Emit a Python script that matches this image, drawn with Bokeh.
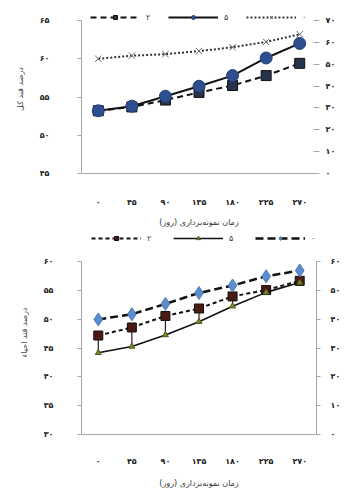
from bokeh.plotting import figure
from bokeh.models import (FactorRange, Range1d, LinearAxis, FixedTicker, Legend, LegendItem)
from bokeh.layouts import column
from bokeh.embed import file_html
from bokeh.resources import INLINE

# ---------------- data ----------------
days = ["۰", "۴۵", "۹۰", "۱۳۵", "۱۸۰", "۲۲۵", "۲۷۰"]
series_names = ["۲", "۵", "۰"]

# top chart: total sugar (%)
top_s2 = [53.2, 53.7, 54.6, 55.6, 56.5, 57.8, 59.4]
top_s5 = [53.2, 53.8, 55.1, 56.4, 57.8, 60.1, 62.0]
top_s0 = [60.0, 60.4, 60.6, 61.0, 61.5, 62.2, 63.2]

# bottom chart: reducing sugar (%)
bot_s2 = [47.2, 48.6, 50.6, 51.9, 54.0, 55.1, 56.7]
bot_s5 = [44.2, 45.3, 47.3, 49.6, 52.3, 54.7, 56.4]
bot_s0 = [50.0, 50.9, 52.7, 54.6, 55.9, 57.5, 58.5]

top_left_ticks = [45, 50, 55, 60, 65]
top_left_labels = ["۴۵", "۵۰", "۵۵", "۶۰", "۶۵"]
top_right_ticks = [0, 10, 20, 30, 40, 50, 60, 70]
top_right_labels = ["۰", "۱۰", "۲۰", "۳۰", "۴۰", "۵۰", "۶۰", "۷۰"]

bot_left_ticks = [30, 35, 40, 45, 50, 55, 60]
bot_left_labels = ["۳۰", "۳۵", "۴۰", "۴۵", "۵۰", "۵۵", "۶۰"]
bot_right_ticks = [0, 10, 20, 30, 40, 50, 60]
bot_right_labels = ["۰", "۱۰", "۲۰", "۳۰", "۴۰", "۵۰", "۶۰"]

x_title = "زمان نمونه‌برداری (روز)"
top_y_title = "درصد قند کل"
bot_y_title = "درصد قند احیاء"

FONT = "DejaVu Sans"
AXIS_GRAY = "#a6a6a6"


def style_axis(ax, ticks, labels, standoff):
    ax.ticker = FixedTicker(ticks=ticks)
    ax.bounds = (ticks[0], ticks[-1])
    ax.major_label_overrides = {t: l for t, l in zip(ticks, labels)}
    ax.major_label_text_font = FONT
    ax.major_label_text_font_size = "8px"
    ax.major_label_text_font_style = "bold"
    ax.major_label_text_color = "#222222"
    ax.major_label_standoff = standoff
    ax.axis_line_color = AXIS_GRAY
    ax.major_tick_line_color = AXIS_GRAY
    ax.major_tick_in = 0
    ax.major_tick_out = 4
    ax.minor_tick_line_color = None


def make_fig(height, bl, br, bt, bb, ticks, rticks, head_px):
    # frame extends head_px above the top tick so the legend can sit inside it
    frame_h = height - bt - bb
    span = frame_h - head_px
    y0, y1 = ticks[0], ticks[-1]
    ymax = y1 + (y1 - y0) * head_px / span
    r0, r1 = rticks[0], rticks[-1]
    rmax = r1 + (r1 - r0) * head_px / span
    p = figure(width=347, height=height, x_range=FactorRange(*days, range_padding=0),
               y_range=Range1d(y0, ymax), output_backend="svg", toolbar_location=None,
               min_border_left=bl, min_border_right=br, min_border_top=bt,
               min_border_bottom=bb)
    p.extra_y_ranges = {"r": Range1d(r0, rmax)}
    p.outline_line_color = None
    p.xgrid.grid_line_color = None
    p.ygrid.grid_line_color = None
    p.background_fill_color = "white"
    p.border_fill_color = "white"
    xa = p.xaxis[0]
    xa.major_label_text_font = FONT
    xa.major_label_text_font_size = "8px"
    xa.major_label_text_font_style = "bold"
    xa.major_label_text_color = "#222222"
    xa.major_tick_line_color = None
    xa.axis_line_color = AXIS_GRAY
    xa.axis_label = x_title
    xa.axis_label_text_font = FONT
    xa.axis_label_text_font_size = "8px"
    xa.axis_label_text_font_style = "normal"
    xa.axis_label_text_color = "#333333"
    return p


def make_legend(renderer_pairs, loc, spacing):
    return Legend(items=[LegendItem(label=n, renderers=list(r))
                         for n, r in zip(series_names, renderer_pairs)],
                  orientation="horizontal", location=loc, glyph_width=50, glyph_height=10,
                  label_standoff=6, spacing=spacing, padding=0, margin=0,
                  background_fill_alpha=0, border_line_color=None,
                  label_text_font=FONT, label_text_font_size="8px",
                  label_height=10, label_width=6)


# ---------------- top chart ----------------
p1 = make_fig(230, 81, 27, 4, 57, top_left_ticks, top_right_ticks, 16)
style_axis(p1.yaxis[0], top_left_ticks, top_left_labels, 28)
ya = p1.yaxis[0]
ya.axis_label = top_y_title
ya.axis_label_text_font = FONT
ya.axis_label_text_font_size = "8px"
ya.axis_label_text_font_style = "normal"
ya.axis_label_standoff = 12
p1.xaxis[0].major_label_standoff = 18
p1.xaxis[0].axis_label_standoff = 8
ra1 = LinearAxis(y_range_name="r")
style_axis(ra1, top_right_ticks, top_right_labels, 6)
ra1.axis_line_color = None
ra1.major_tick_in = 3
ra1.major_tick_out = 3
p1.add_layout(ra1, "right")

l1a = p1.line(days, top_s2, line_color="#111111", line_width=2, line_dash="6 4")
m1a = p1.scatter(days, top_s2, marker="square", size=10, fill_color="#26334a", line_color="#111111")
l1b = p1.line(days, top_s5, line_color="#111111", line_width=2)
m1b = p1.scatter(days, top_s5, marker="circle", size=12, fill_color="#2e4f8f", line_color="#25407a")
l1c = p1.line(days, top_s0, line_color="#333333", line_width=2, line_dash="2 2")
m1c = p1.scatter(days, top_s0, marker="x", size=9, line_color="#666666", line_width=1)

p1.add_layout(make_legend([(l1a, m1a), (l1b, m1b), (l1c, m1c)], (9, 151), 16), "center")

# ---------------- bottom chart ----------------
p2 = make_fig(260, 77, 31, 0, 52, bot_left_ticks, bot_right_ticks, 32)
style_axis(p2.yaxis[0], bot_left_ticks, bot_left_labels, 24)
yb = p2.yaxis[0]
yb.axis_label = bot_y_title
yb.axis_label_text_font = FONT
yb.axis_label_text_font_size = "8px"
yb.axis_label_text_font_style = "normal"
yb.axis_label_standoff = 12
p2.xaxis[0].major_label_standoff = 16
p2.xaxis[0].axis_label_standoff = 10
ra2 = LinearAxis(y_range_name="r")
style_axis(ra2, bot_right_ticks, bot_right_labels, 10)
p2.add_layout(ra2, "right")

p2.segment(x0=days, y0=bot_s5, x1=days, y1=bot_s2, line_color="#3a1a12", line_width=1.2)
l2a = p2.line(days, bot_s2, line_color="#111111", line_width=2, line_dash="4 3")
m2a = p2.scatter(days, bot_s2, marker="square", size=9, fill_color="#4b1b12", line_color="#111111")
l2b = p2.line(days, bot_s5, line_color="#111111", line_width=1.6)
m2b = p2.scatter(days, bot_s5, marker="triangle", size=6, fill_color="#7a8a2a", line_color="#4d5a1a")
l2c = p2.line(days, bot_s0, line_color="#111111", line_width=2.5, line_dash="8 4")
m2c = p2.scatter(days, bot_s0, marker="diamond", size=13, fill_color="#5b8dd0", line_color="#4a78b5")

p2.add_layout(make_legend([(l2a, m2a), (l2b, m2b), (l2c, m2c)], (10, 191), 20), "center")

layout = column(p1, p2, spacing=0)
open("out.html", "w").write(file_html(layout, INLINE))
